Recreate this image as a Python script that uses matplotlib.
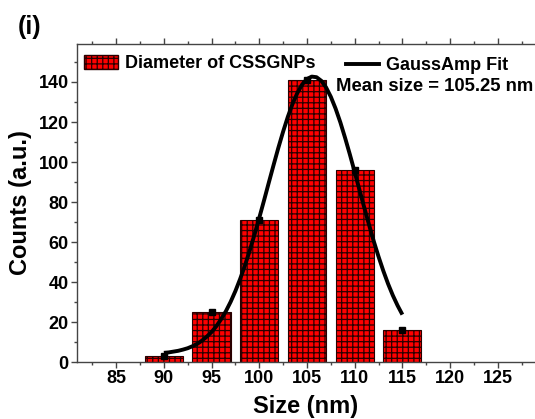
import numpy as np
import matplotlib.pyplot as plt
from matplotlib.patches import Patch
from matplotlib.lines import Line2D
from matplotlib.ticker import MultipleLocator

plt.rcParams['font.family'] = ['Liberation Sans', 'DejaVu Sans']
plt.rcParams['font.weight'] = 'bold'
plt.rcParams['hatch.linewidth'] = 0.9

# histogram data
sizes = [90, 95, 100, 105, 110, 115]
counts = [3, 25, 71, 141, 96, 16]

# GaussAmp fit curve
fit_x = [90.0, 90.5, 91.0, 91.5, 92.0, 92.5, 93.0, 93.5, 94.0, 94.5, 95.0, 95.5,
         96.0, 96.5, 97.0, 97.5, 98.0, 98.5, 99.0, 99.5, 100.0, 100.5, 101.0, 101.5,
         102.0, 102.5, 103.0, 103.5, 104.0, 104.5, 105.0, 105.5, 106.0, 106.5, 107.0,
         107.5, 108.0, 108.5, 109.0, 109.5, 110.0, 110.5, 111.0, 111.5, 112.0, 112.5,
         113.0, 113.5, 114.0, 114.5, 115.0]
fit_y = [4.6, 4.8, 5.2, 5.6, 6.2, 6.9, 7.9, 9.1, 10.7, 12.7, 15.0, 17.9,
         21.4, 25.4, 30.1, 35.5, 41.6, 48.3, 55.7, 63.7, 72.1, 80.8, 89.7, 98.5,
         107.1, 115.2, 122.7, 129.2, 134.6, 138.8, 141.5, 142.7, 142.4, 140.6, 137.3,
         132.6, 126.7, 119.8, 112.0, 103.7, 95.0, 86.1, 77.3, 68.7, 60.4, 52.7,
         45.6, 39.1, 33.3, 28.2, 23.7]

fig = plt.figure(figsize=(5.35, 4.19), dpi=100)
ax = fig.add_axes([0.144, 0.136, 0.856, 0.759])

ax.bar(sizes, counts, width=4, color='#ff0000', edgecolor='#2a0000',
       hatch='+++', linewidth=0.8, zorder=2)
ax.plot(sizes, counts, 's', color='black', markersize=4, zorder=3)
ax.plot(fit_x, fit_y, color='black', linewidth=2.8, zorder=4, solid_capstyle='butt')

ax.set_xlim(80.9, 128.9)
ax.set_ylim(0, 159)
ax.set_xticks([85, 90, 95, 100, 105, 110, 115, 120, 125])
ax.xaxis.set_minor_locator(MultipleLocator(2.5))
ax.yaxis.set_minor_locator(MultipleLocator(10))
ax.set_yticks([0, 20, 40, 60, 80, 100, 120, 140])
ax.tick_params(which='major', direction='out', length=4, width=1, labelsize=13,
               color='#444444', pad=2)
ax.tick_params(which='minor', direction='out', length=2.5, width=1, color='#444444')
ax.tick_params(axis='x', top=True, which='both')
for lbl in ax.get_xticklabels() + ax.get_yticklabels():
    lbl.set_fontweight('bold')
for sp in ax.spines.values():
    sp.set_color('#444444')
    sp.set_linewidth(1)
ax.spines['right'].set_visible(False)

ax.set_xlabel('Size (nm)', fontsize=17, fontweight='bold')
ax.set_ylabel('Counts (a.u.)', fontsize=17, fontweight='bold')
ax.xaxis.set_label_coords(0.5, -0.105)
ax.yaxis.set_label_coords(-0.098, 0.5)

leg1 = ax.legend(handles=[Patch(facecolor='#ff0000', edgecolor='#2a0000', hatch='+++')],
                 labels=['Diameter of CSSGNPs'], loc='center left', frameon=False,
                 prop={'size': 13, 'weight': 'bold'}, handlelength=1.9, handleheight=0.75,
                 handletextpad=0.4, borderaxespad=0, borderpad=0,
                 bbox_to_anchor=(0.015, 0.938))
ax.add_artist(leg1)
ax.legend(handles=[Line2D([], [], color='black', linewidth=2.8)], labels=['GaussAmp Fit'],
          loc='center left', frameon=False, prop={'size': 13, 'weight': 'bold'},
          handlelength=1.8, handletextpad=0.4, borderaxespad=0, borderpad=0,
          bbox_to_anchor=(0.588, 0.932))
ax.text(0.566, 0.866, 'Mean size = 105.25 nm', transform=ax.transAxes,
        fontsize=13.3, fontweight='bold', va='center', ha='left')

fig.text(0.034, 0.965, '(i)', fontsize=18, fontweight='bold', va='top')

fig.savefig('out.png', dpi=100)
